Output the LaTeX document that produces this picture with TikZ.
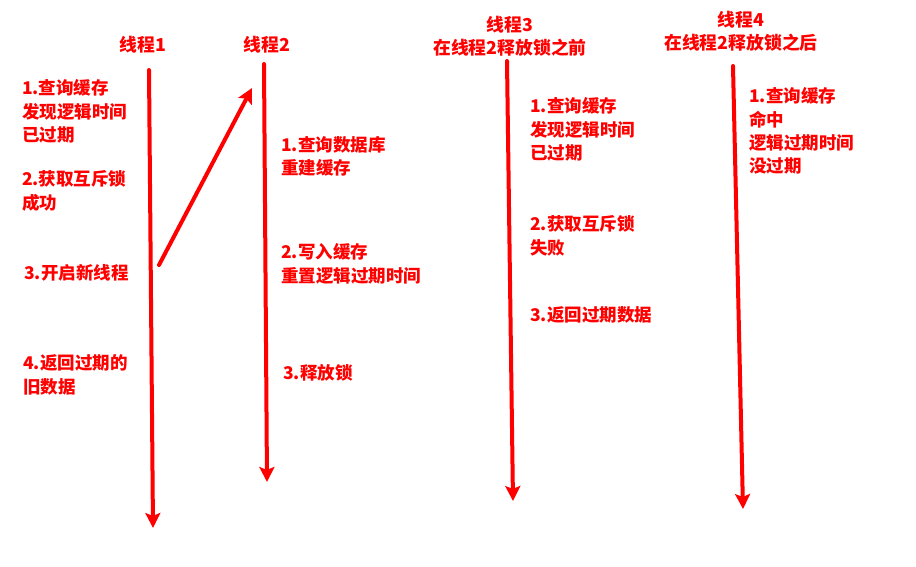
\documentclass[tikz,border=0pt]{standalone}
\usepackage{fontspec}
\newfontfamily\cjk{Noto Sans CJK SC}
\usepackage{tikz}
\usetikzlibrary{arrows.meta}

\begin{document}
\begin{tikzpicture}[x=1pt, y=-1pt,
    thread/.style={red, line width=4pt, line cap=round, -{Stealth[length=15pt, width=15pt, inset=3pt]}},
    note/.style={anchor=base west, inner sep=0pt, align=left, text=red, font=\cjk\bfseries\fontsize{17.5}{23.5}\selectfont},
    title/.style={anchor=base, inner sep=0pt, align=center, text=red, font=\cjk\bfseries\fontsize{17.8}{23.5}\selectfont}]
                \useasboundingbox (0,0) rectangle (916,567);
                % thread heads (base = last line)
                \node[title] (t1) at (143,52) {线程1};
                \node[title] (t2) at (267,52) {线程2};
                \node[title] (t3) at (510,55) {线程3\\在线程2释放锁之前};
                \node[title] (t4) at (741,50) {线程4\\在线程2释放锁之后};
                % time lines
                \coordinate (t1top) at (149,70);  \coordinate (t1bot) at (153,528);
                \coordinate (t2top) at (264,64);  \coordinate (t2bot) at (267,482);
                \coordinate (t3top) at (507,61);  \coordinate (t3bot) at (513,501);
                \coordinate (t4top) at (733,66);  \coordinate (t4bot) at (743,509);
                \draw[thread] (t1top) -- (t1bot);
                \draw[thread] (t2top) -- (t2bot);
                \draw[thread] (t3top) -- (t3bot);
                \draw[thread] (t4top) -- (t4bot);
                % new thread started by thread 1
                \coordinate (spawn) at (159,265);
                \coordinate (wake) at (252,88);
                \draw[thread] (spawn) -- (wake);
                % thread 1
                \node[note] (a1) at (22,142) {1.查询缓存\\发现逻辑时间\\已过期};
                \node[note] (a2) at (22,209) {2.获取互斥锁\\成功};
                \node[note] (a3) at (24,279) {3.开启新线程};
                \node[note] (a4) at (23,393) {4.返回过期的\\旧数据};
                % thread 2
                \node[note] (b1) at (281,175) {1.查询数据库\\重建缓存};
                \node[note] (b2) at (281,282) {2.写入缓存\\重置逻辑过期时间};
                \node[note] (b3) at (283,379) {3.释放锁};
                % thread 3
                \node[note] (c1) at (530,160) {1.查询缓存\\发现逻辑时间\\已过期};
                \node[note] (c2) at (530,254) {2.获取互斥锁\\失败};
                \node[note] (c3) at (530,321) {3.返回过期数据};
                % thread 4
                \node[note] (d1) at (749,173) {1.查询缓存\\命中\\逻辑过期时间\\没过期};
              \end{tikzpicture}
\end{document}
